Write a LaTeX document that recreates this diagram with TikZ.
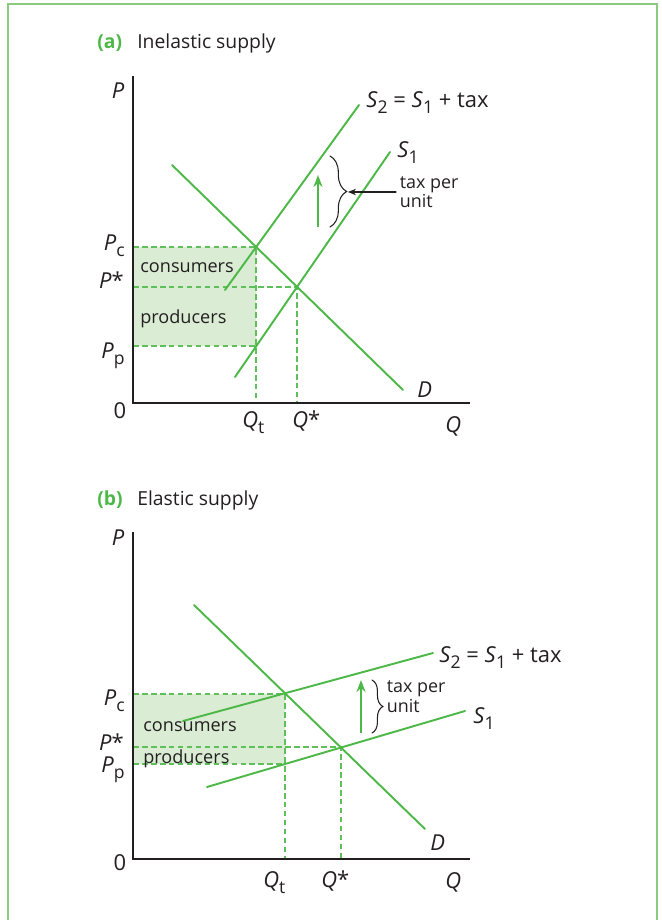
\documentclass[tikz,border=0pt]{standalone}
\usepackage{fontspec}
\setmainfont{Open Sans}
\usetikzlibrary{arrows.meta,decorations.pathreplacing}
\definecolor{linegreen}{HTML}{4DB848}
\definecolor{areagreen}{HTML}{DAECD4}
\definecolor{framegreen}{HTML}{8CCB7E}
\definecolor{ink}{HTML}{231F20}
\newcommand{\lowsub}[1]{\raisebox{-3.6pt}{\fontsize{10}{10}\selectfont #1}}

\begin{document}
\begin{tikzpicture}[x=0.02cm,y=-0.02cm,line cap=round,color=ink,font=\fontsize{12.5}{14}\selectfont,
  mkt/.style={linegreen,line width=1.1pt},
  axisline/.style={ink,line width=1.1pt,line cap=butt},
  guide/.style={linegreen!90!white,line width=0.65pt,dash pattern=on 3.2pt off 1.9pt,line cap=butt},
  rise/.style={linegreen,line width=1.2pt,line cap=butt,-{Stealth[length=2.4mm,width=1.8mm]}},
  taxbrace/.style={ink,line width=0.6pt,decorate,decoration={brace,amplitude=#1}},
  lbl/.style={inner sep=0pt,text=ink},
  area/.style={inner sep=0pt,text=ink,font=\fontsize{10.3}{12}\selectfont},
  headline/.style={inner sep=0pt,text=ink,font=\fontsize{11}{13}\selectfont},
  panellabel/.style={inner sep=0pt,text=linegreen,font=\fontsize{11}{13}\selectfont\bfseries},
  note/.style={inner sep=2pt,text=ink,align=left,font=\fontsize{10.2}{10.5}\selectfont}]
\useasboundingbox (0,0) rectangle (662,920);
% frame
\coordinate (f1) at (8,930);
\coordinate (f2) at (8,4);
\coordinate (f3) at (657,4);
\coordinate (f4) at (657,930);
\draw[framegreen,line width=0.9pt,line cap=butt] (f1) -- (f2) -- (f3) -- (f4);

% ---------- (a) inelastic supply
\node[panellabel,anchor=base west] (tagA) at (97,48) {(a)};
\node[headline,anchor=base west] (headA) at (137,48) {Inelastic supply};
\coordinate (oA) at (133,403);
\coordinate (yA) at (133,76);
\coordinate (xA) at (470,403);
\coordinate (dA1) at (172,165);
\coordinate (dA2) at (403,390);
\coordinate (sA1) at (235,377);
\coordinate (sA2) at (390,152);
\coordinate (tA1) at (225,290);
\coordinate (tA2) at (359,105);
\coordinate (EA) at (297,287);
\coordinate (EtA) at (256,247);
\coordinate (EpA) at (256,346);
\fill[areagreen] (oA |- EtA) rectangle (EpA);
\draw[guide] (oA |- EtA) -- (EtA) -- (EtA |- oA);
\draw[guide] (oA |- EA) -- (EA) -- (EA |- oA);
\draw[guide] (oA |- EpA) -- (EpA);
\draw[mkt] (dA1) -- (dA2);
\draw[mkt] (sA1) -- (sA2);
\draw[mkt] (tA1) -- (tA2);
\draw[axisline] (yA) -- (oA) -- (xA);
\coordinate (rA1) at (318,227);
\coordinate (rA2) at (318,175);
\draw[rise] (rA1) -- (rA2);
\coordinate (bA1) at (330,156);
\coordinate (bA2) at (330,227);
\coordinate (bAtip) at (348,192);
\draw[taxbrace=9.5pt] (bA1) -- (bA2);
\node[note,anchor=west] (taxA) at (396,192) {tax per\\unit};
\draw[ink,line width=0.6pt,-{Stealth[length=1.6mm,width=1.3mm]}] (taxA.west) -- (taxA.west -| bAtip);
\node[lbl,anchor=base west] (s2A) at (366,107) {\textit{S}\lowsub{2} = \textit{S}\lowsub{1} + tax};
\node[lbl,anchor=base west] (s1A) at (397,157) {\textit{S}\lowsub{1}};
\node[lbl,anchor=base west] (dA) at (417,397) {\textit{D}};
\node[lbl,anchor=base] (pA) at (118,98) {\textit{P}};
\node[lbl,anchor=base east] (pcA) at (125,250) {\textit{P}\lowsub{c}};
\node[lbl,anchor=base east] (psA) at (124,288) {\textit{P}*};
\node[lbl,anchor=base east] (ppA) at (125,358) {\textit{P}\lowsub{p}};
\node[lbl,anchor=base] (zA) at (120,418) {0};
\node[lbl,anchor=base west] (qtA) at (242,427) {\textit{Q}\lowsub{t}};
\node[lbl,anchor=base west] (qsA) at (292,427) {\textit{Q}*};
\node[lbl,anchor=base west] (qA) at (445,432) {\textit{Q}};
\node[area,anchor=base west] (consA) at (140,272) {consumers};
\node[area,anchor=base west] (prodA) at (140,323) {producers};

% ---------- (b) elastic supply
\node[panellabel,anchor=base west] (tagB) at (97,505) {(b)};
\node[headline,anchor=base west] (headB) at (137,505) {Elastic supply};
\coordinate (oB) at (133,859);
\coordinate (yB) at (133,532);
\coordinate (xB) at (470,859);
\coordinate (dB1) at (194,605);
\coordinate (dB2) at (425,829);
\coordinate (sB1) at (207,787);
\coordinate (sB2) at (465,711);
\coordinate (tB1) at (183,721);
\coordinate (tB2) at (433,653);
\coordinate (EB) at (341,747);
\coordinate (EtB) at (285,694);
\coordinate (EpB) at (285,764);
\fill[areagreen] (oB |- EtB) rectangle (EpB);
\draw[guide] (oB |- EtB) -- (EtB) -- (EtB |- oB);
\draw[guide] (oB |- EB) -- (EB) -- (EB |- oB);
\draw[guide] (oB |- EpB) -- (EpB);
\draw[mkt] (dB1) -- (dB2);
\draw[mkt] (sB1) -- (sB2);
\draw[mkt] (tB1) -- (tB2);
\draw[axisline] (yB) -- (oB) -- (xB);
\coordinate (rB1) at (361,733);
\coordinate (rB2) at (361,680);
\draw[rise] (rB1) -- (rB2);
\coordinate (bB1) at (372,680);
\coordinate (bB2) at (372,733);
\draw[taxbrace=6.2pt] (bB1) -- (bB2);
\node[note,anchor=west,font=\fontsize{10.2}{11.5}\selectfont] (taxB) at (383,697) {tax per\\unit};
\node[lbl,anchor=base west] (s2B) at (439,662) {\textit{S}\lowsub{2} = \textit{S}\lowsub{1} + tax};
\node[lbl,anchor=base west] (s1B) at (473,723) {\textit{S}\lowsub{1}};
\node[lbl,anchor=base west] (dB) at (430,850) {\textit{D}};
\node[lbl,anchor=base] (pB) at (118,545) {\textit{P}};
\node[lbl,anchor=base east] (pcB) at (125,705) {\textit{P}\lowsub{c}};
\node[lbl,anchor=base east] (psB) at (124,750) {\textit{P}*};
\node[lbl,anchor=base east] (ppB) at (125,772) {\textit{P}\lowsub{p}};
\node[lbl,anchor=base] (zB) at (120,870) {0};
\node[lbl,anchor=base west] (qtB) at (263,887) {\textit{Q}\lowsub{t}};
\node[lbl,anchor=base west] (qsB) at (321,887) {\textit{Q}*};
\node[lbl,anchor=base west] (qB) at (445,888) {\textit{Q}};
\node[area,anchor=base west] (consB) at (143,731) {consumers};
\node[area,anchor=base west] (prodB) at (143,763) {producers};
\end{tikzpicture}
\end{document}
